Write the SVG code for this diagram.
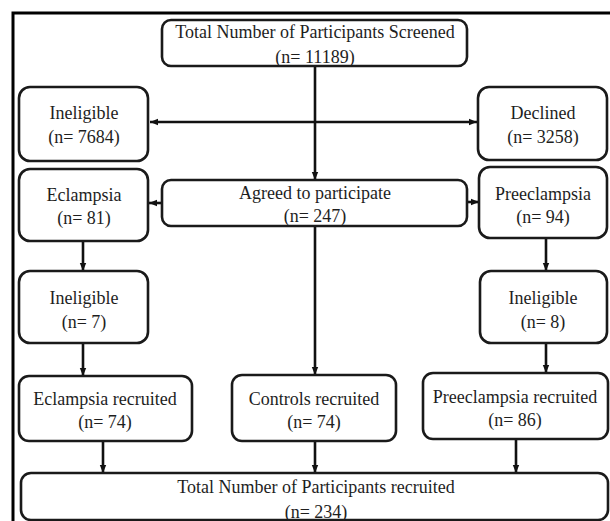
<svg xmlns="http://www.w3.org/2000/svg" width="610" height="521" viewBox="0 0 610 521">
<style>
.box{fill:#fff;stroke:#1a1a1a;stroke-width:2.6}
.t{font-family:'Liberation Serif','Times New Roman',Times,'DejaVu Serif',serif;font-size:18px;fill:#1e1e1e;text-anchor:middle}
.c{fill:none;stroke:#111;stroke-width:2.6}
.frame{fill:none;stroke:#000;stroke-width:3}
</style>
<defs>
<marker id="ah" viewBox="0 0 8 8" refX="8" refY="4" markerWidth="8" markerHeight="8" markerUnits="userSpaceOnUse" orient="auto-start-reverse">
<path d="M0,0.8 L8,4 L0,7.2 Z" fill="#111"/>
</marker>
</defs>
<rect width="610" height="521" fill="#fff"/>
<path class="frame" d="M13,521 V13 H610"/>
<g id="connectors">
<line class="c" x1="315" y1="66" x2="315" y2="180" marker-end="url(#ah)"/>
<line class="c" x1="150" y1="122" x2="477" y2="122" marker-start="url(#ah)" marker-end="url(#ah)"/>
<line class="c" x1="162" y1="203" x2="149" y2="203" marker-end="url(#ah)"/>
<line class="c" x1="467" y1="202" x2="479" y2="202" marker-end="url(#ah)"/>
<line class="c" x1="83" y1="241" x2="83" y2="271" marker-end="url(#ah)"/>
<line class="c" x1="546" y1="238" x2="546" y2="271" marker-end="url(#ah)"/>
<line class="c" x1="83" y1="343" x2="83" y2="376" marker-end="url(#ah)"/>
<line class="c" x1="546" y1="343" x2="546" y2="373" marker-end="url(#ah)"/>
<line class="c" x1="315" y1="226" x2="315" y2="375" marker-end="url(#ah)"/>
<line class="c" x1="103" y1="441" x2="103" y2="473" marker-end="url(#ah)"/>
<line class="c" x1="315" y1="441" x2="315" y2="473" marker-end="url(#ah)"/>
<line class="c" x1="516" y1="439" x2="516" y2="473" marker-end="url(#ah)"/>
</g>
<g id="screened">
<rect class="box" x="162" y="20" width="305" height="46" rx="9"/>
<text class="t" x="315" y="38">Total Number of Participants Screened</text>
<text class="t" x="315" y="63">(n= 11189)</text>
</g>
<g id="ineligible1">
<rect class="box" x="19" y="87" width="129" height="74" rx="11"/>
<text class="t" x="84" y="119">Ineligible</text>
<text class="t" x="84" y="143">(n= 7684)</text>
</g>
<g id="declined">
<rect class="box" x="478" y="87" width="129" height="73" rx="11"/>
<text class="t" x="543" y="119">Declined</text>
<text class="t" x="543" y="143">(n= 3258)</text>
</g>
<g id="eclampsia">
<rect class="box" x="19" y="169" width="129" height="72" rx="11"/>
<text class="t" x="84" y="201">Eclampsia</text>
<text class="t" x="84" y="224">(n= 81)</text>
</g>
<g id="agreed">
<rect class="box" x="162" y="180" width="305" height="46" rx="9"/>
<text class="t" x="315" y="199">Agreed to participate</text>
<text class="t" x="315" y="222">(n= 247)</text>
</g>
<g id="preeclampsia">
<rect class="box" x="479" y="167" width="128" height="71" rx="11"/>
<text class="t" x="543" y="200">Preeclampsia</text>
<text class="t" x="543" y="223">(n= 94)</text>
</g>
<g id="ineligible7">
<rect class="box" x="19" y="271" width="129" height="72" rx="11"/>
<text class="t" x="84" y="304">Ineligible</text>
<text class="t" x="84" y="328">(n= 7)</text>
</g>
<g id="ineligible8">
<rect class="box" x="480" y="271" width="127" height="72" rx="11"/>
<text class="t" x="543" y="304">Ineligible</text>
<text class="t" x="543" y="328">(n= 8)</text>
</g>
<g id="eclampsia-recruited">
<rect class="box" x="19" y="376" width="173" height="65" rx="10"/>
<text class="t" x="105" y="405">Eclampsia recruited</text>
<text class="t" x="105" y="428">(n= 74)</text>
</g>
<g id="controls-recruited">
<rect class="box" x="232" y="375" width="164" height="66" rx="10"/>
<text class="t" x="314" y="405">Controls recruited</text>
<text class="t" x="314" y="428">(n= 74)</text>
</g>
<g id="preeclampsia-recruited">
<rect class="box" x="423" y="373" width="185" height="66" rx="10"/>
<text class="t" x="515" y="403">Preeclampsia recruited</text>
<text class="t" x="515" y="426">(n= 86)</text>
</g>
<g id="total-recruited">
<rect class="box" x="21" y="473" width="587" height="47" rx="10"/>
<text class="t" x="316" y="493">Total Number of Participants recruited</text>
<text class="t" x="316" y="518">(n= 234)</text>
</g>
</svg>
